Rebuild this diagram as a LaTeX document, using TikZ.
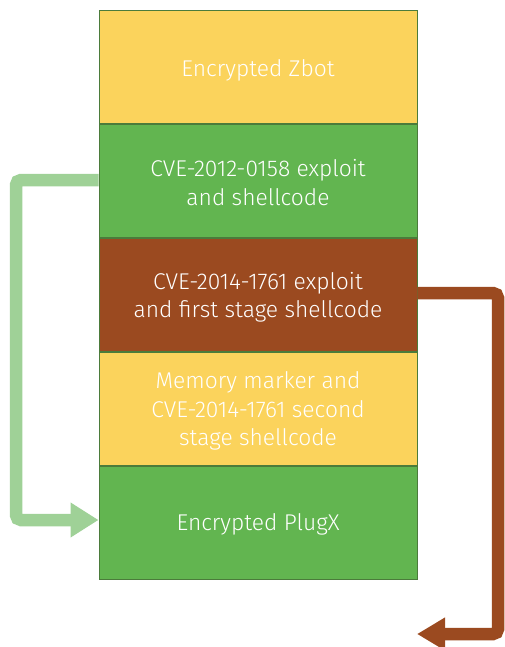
\documentclass[tikz,border=0pt]{standalone}
\usepackage{fontspec}
\setmainfont{Fira Sans Light}
\usetikzlibrary{arrows.meta}
\definecolor{zyellow}{HTML}{FBD35C}
\definecolor{zgreen}{HTML}{62B550}
\definecolor{zbrown}{HTML}{9B4A20}
\definecolor{zedge}{HTML}{4B7B3B}
\definecolor{zlight}{HTML}{9FD197}
\tikzset{
  layer/.style={draw=zedge, line width=0.9pt, minimum width=318pt, minimum height=113.2pt,
    inner sep=0pt},
  caption/.style={inner sep=0pt, text=white, align=center,
    font=\fontsize{22.8}{28.5}\selectfont},
  jump/.style={line width=12.5pt, rounded corners=5pt}
}
\begin{document}
\begin{tikzpicture}[x=1pt, y=-1pt]
\useasboundingbox (0,0) rectangle (504,647);
% stacked file layout
\node[layer, fill=zyellow] (zbot) at (258,66.6) {};
\node[layer, fill=zgreen, anchor=north] (exp1) at (zbot.south) {};
\node[layer, fill=zbrown, anchor=north] (exp2) at (exp1.south) {};
\node[layer, fill=zyellow, anchor=north] (marker) at (exp2.south) {};
\node[layer, fill=zgreen, anchor=north] (plugx) at (marker.south) {};
\node[caption] (tzbot) at ([yshift=-3.5pt]zbot.center) {Encrypted Zbot};
\node[caption] (texp1) at ([yshift=-2pt]exp1.center) {CVE-2012-0158 exploit\\and shellcode};
\node[caption] (texp2) at ([yshift=-2.5pt]exp2.center) {CVE-2014-1761 exploit\\and first stage shellcode};
\node[caption] (tmarker) at ([yshift=-2pt]marker.center) {Memory marker and\\CVE-2014-1761 second\\stage shellcode};
\node[caption] (tplugx) at ([yshift=-1pt]plugx.center) {Encrypted PlugX};
% jump from the first exploit down to the PlugX payload
\coordinate (gstart) at ([yshift=0.5pt]exp1.west);
\draw[jump, draw=zlight, -{Triangle[length=28pt, width=33pt]}]
  (gstart) -- (16,180) -- (16,520) -- (plugx.west |- 0,520);
% jump from the second exploit out past the end of the file
\coordinate (bout) at (417,634);
\draw[jump, draw=zbrown, -{Triangle[length=28pt, width=31pt]}]
  (exp2.east |- 0,293) -- (498,293) -- (498,634) -- (bout);
\end{tikzpicture}
\end{document}
